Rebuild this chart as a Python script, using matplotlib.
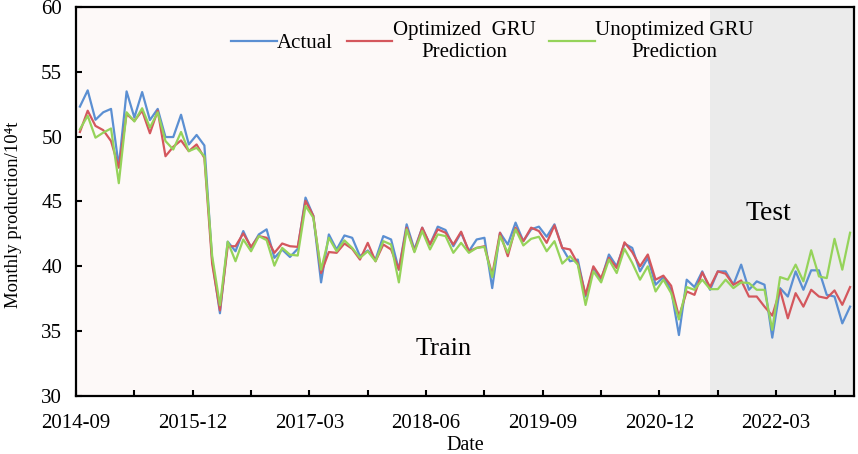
import numpy as np
import matplotlib
matplotlib.use("Agg")
import matplotlib.pyplot as plt

# monthly production (10^4 t), first point 2014-09
actual = [52.32, 53.57, 51.30, 51.88, 52.14, 47.71, 53.49, 51.48, 53.44, 51.28,
          52.14, 49.97, 49.97, 51.69, 49.40, 50.13, 49.32, 40.50, 36.38, 41.90,
          41.16, 42.72, 41.42, 42.46, 42.85, 40.65, 41.29, 40.72, 41.35, 45.30,
          43.90, 38.76, 42.46, 41.29, 42.38, 42.20, 40.78, 41.22, 40.52, 42.33,
          42.07, 39.74, 43.24, 41.30, 42.98, 41.68, 43.06, 42.80, 41.55, 42.59,
          41.16, 42.07, 42.20, 38.32, 42.59, 41.68, 43.37, 41.94, 42.85, 43.06,
          42.28, 43.24, 41.42, 40.39, 40.52, 37.67, 39.87, 38.96, 40.91, 40.00,
          41.75, 41.42, 39.61, 40.65, 38.58, 39.17, 38.19, 34.70, 38.97, 38.40,
          39.61, 38.19, 39.61, 39.61, 38.58, 40.13, 38.19, 38.84, 38.58, 34.50,
          38.32, 37.67, 39.61, 38.19, 39.69, 39.69, 37.80, 37.67, 35.60, 36.89]

optimized = [50.36, 52.00, 50.83, 50.50, 49.66, 47.60, 51.74, 51.22, 52.00, 50.26,
             52.00, 48.49, 49.22, 49.71, 48.88, 49.40, 48.36, 40.20, 36.60, 41.55,
             41.55, 42.54, 41.50, 42.33, 42.20, 41.04, 41.76, 41.55, 41.50, 45.05,
             43.90, 39.48, 41.10, 41.04, 41.76, 41.35, 40.52, 41.81, 40.39, 41.68,
             41.30, 39.74, 42.98, 41.16, 42.98, 41.68, 42.85, 42.59, 41.68, 42.67,
             41.16, 41.42, 41.55, 39.35, 42.59, 40.78, 42.98, 41.94, 42.98, 42.72,
             41.81, 43.16, 41.42, 41.30, 40.21, 37.80, 40.00, 39.09, 40.65, 39.87,
             41.85, 41.09, 40.00, 40.91, 38.97, 39.28, 38.50, 36.12, 38.06, 37.80,
             39.53, 38.40, 39.61, 39.43, 38.58, 38.91, 37.67, 37.67, 36.89, 36.20,
             38.19, 35.99, 37.93, 36.89, 38.19, 37.67, 37.54, 38.14, 37.03, 38.40]

unoptimized = [50.57, 51.61, 49.92, 50.31, 50.63, 46.41, 51.88, 51.17, 52.19, 50.70,
               51.88, 49.66, 49.01, 50.36, 48.88, 49.14, 48.49, 40.80, 37.00, 41.90,
               40.39, 42.07, 41.16, 42.33, 42.02, 40.05, 41.42, 40.90, 40.83, 44.66,
               43.75, 39.74, 42.20, 41.16, 42.00, 41.42, 40.65, 41.16, 40.39, 41.94,
               41.68, 38.76, 42.85, 41.09, 42.72, 41.30, 42.46, 42.33, 41.04, 41.81,
               41.04, 41.42, 41.50, 39.17, 42.33, 41.04, 42.85, 41.61, 42.12, 42.28,
               41.16, 41.94, 40.21, 40.78, 40.13, 37.02, 39.61, 38.76, 40.52, 39.48,
               41.35, 40.26, 38.97, 40.00, 38.06, 38.97, 37.93, 35.90, 38.40, 38.19,
               38.97, 38.24, 38.24, 38.97, 38.32, 38.76, 38.71, 38.19, 38.19, 35.10,
               39.17, 38.97, 40.13, 38.84, 41.24, 39.22, 39.09, 42.12, 39.74, 42.59]

tick_labels = ["2014-09", "2015-12", "2017-03", "2018-06", "2019-09", "2020-12", "2022-03"]
test_start = 81  # first index of the test part

plt.rcParams['font.family'] = ['Liberation Serif', 'DejaVu Serif']
plt.rcParams['font.size'] = 15

x = np.arange(len(actual))

fig = plt.figure(figsize=(8.58, 4.54), dpi=100)
ax = fig.add_axes([0.0886, 0.1278, 0.9067, 0.8568])
ax.set_facecolor('#fdf9f8')

ax.axvspan(test_start, len(actual) - 0.5, color='#ebebeb', zorder=0, lw=0)

ax.plot(x, actual, color='#5b8fd2', lw=1.6, label='Actual')
ax.plot(x, optimized, color='#d4575d', lw=1.6, label='Optimized  GRU\nPrediction')
ax.plot(x, unoptimized, color='#95d35a', lw=1.6, label='Unoptimized GRU\nPrediction')

ax.set_xlim(-0.5, len(actual) - 0.5)
ax.set_ylim(30, 60)
ax.set_yticks(np.arange(30, 61, 5))

# labelled ticks every 15 months, plain ticks half way between
major = -0.5 + 15 * np.arange(len(tick_labels))
ax.set_xticks(major)
ax.set_xticklabels(tick_labels)
ax.set_xticks(major + 7.5, minor=True)

ax.tick_params(which='both', direction='in', length=4, width=1.5, labelsize=15)
ax.tick_params(axis='x', pad=13)
ax.tick_params(axis='y', pad=10)
for s in ax.spines.values():
    s.set_linewidth(1.6)

ax.set_xlabel('Date', fontsize=14.5)
ax.xaxis.set_label_coords(0.5, -0.102)
ax.set_ylabel('Monthly production/10\u2074t', fontsize=13.5)
ax.yaxis.set_label_coords(-0.07, 0.465)

ax.text(46.8, 33.6, 'Train', fontsize=19, ha='center', va='center')
ax.text(88.5, 44.1, 'Test', fontsize=20, ha='center', va='center')

leg = ax.legend(ncol=3, loc='upper left', bbox_to_anchor=(0.175, 1.012), frameon=False,
                fontsize=15, handlelength=2.2, handletextpad=0.02, columnspacing=0.65)
for t in leg.get_texts():
    t.set_multialignment('center')

fig.savefig('out.png', dpi=100, facecolor='white')
